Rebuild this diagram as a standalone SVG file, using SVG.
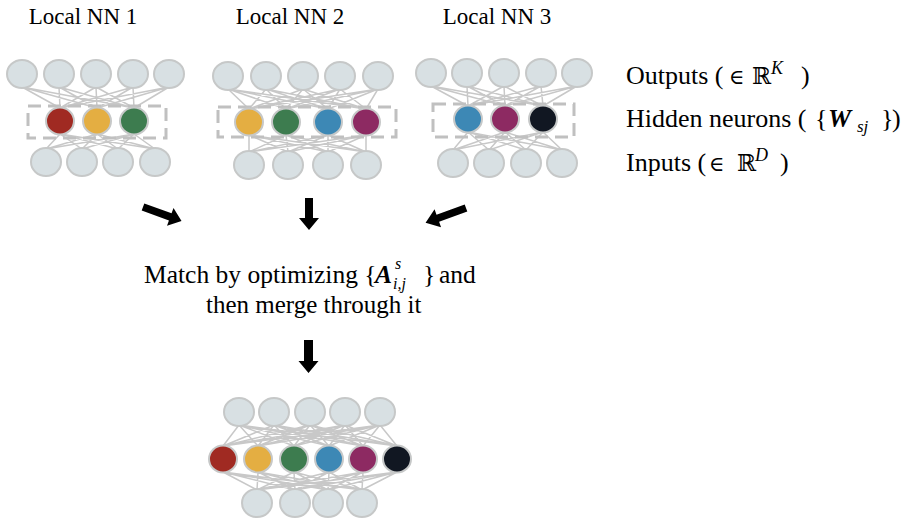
<svg xmlns="http://www.w3.org/2000/svg" width="902" height="521" viewBox="0 0 902 521">
<style>
  .wire{fill:none;stroke:#c8c8c8;stroke-width:1.5}
  .unit{fill:#d8e0e3;stroke:#c6c8c8;stroke-width:2}
  .hid{stroke:#c6c8c8;stroke-width:2}
  .box{fill:none;stroke:#c0c0c0;stroke-width:3;stroke-dasharray:13 7}
  .red{fill:#a02a22}.yel{fill:#e4ae42}.grn{fill:#3d7c4f}.blu{fill:#3d88b5}.mag{fill:#8d2a62}.blk{fill:#111722}
  text{font-family:'Liberation Serif','Times New Roman','DejaVu Serif',serif;fill:#000}
  .m{font-family:'DejaVu Serif','Liberation Serif',serif}
  .arrow{fill:#000}
</style>
<rect x="0" y="0" width="902" height="521" fill="#ffffff"/>

<g id="nn1">
  <path class="wire" d="M22 87L60 108M22 87L97 108M22 87L134 108M59 87L60 108M59 87L97 108M59 87L134 108M96 87L60 108M96 87L97 108M96 87L134 108M133 87L60 108M133 87L97 108M133 87L134 108M169 87L60 108M169 87L97 108M169 87L134 108"/>
  <path class="wire" d="M60 134L46 149M60 134L82 149M60 134L118 149M60 134L155 149M97 134L46 149M97 134L82 149M97 134L118 149M97 134L155 149M134 134L46 149M134 134L82 149M134 134L118 149M134 134L155 149"/>
  <rect class="box" x="28" y="106" width="138" height="32"/>
  <ellipse class="unit" cx="22" cy="74" rx="15" ry="14"/>
  <ellipse class="unit" cx="59" cy="74" rx="15" ry="14"/>
  <ellipse class="unit" cx="96" cy="74" rx="15" ry="14"/>
  <ellipse class="unit" cx="133" cy="74" rx="15" ry="14"/>
  <ellipse class="unit" cx="169" cy="74" rx="15" ry="14"/>
  <ellipse class="hid red" cx="60" cy="121" rx="14" ry="13.5"/>
  <ellipse class="hid yel" cx="97" cy="121" rx="14" ry="13.5"/>
  <ellipse class="hid grn" cx="134" cy="121" rx="14" ry="13.5"/>
  <ellipse class="unit" cx="46" cy="162" rx="15" ry="14"/>
  <ellipse class="unit" cx="82" cy="162" rx="15" ry="14"/>
  <ellipse class="unit" cx="118" cy="162" rx="15" ry="14"/>
  <ellipse class="unit" cx="155" cy="162" rx="15" ry="14"/>
</g>

<g id="nn2">
  <path class="wire" d="M228 89L249 109M228 89L286 109M228 89L328 109M228 89L366 109M266 89L249 109M266 89L286 109M266 89L328 109M266 89L366 109M303 89L249 109M303 89L286 109M303 89L328 109M303 89L366 109M340 89L249 109M340 89L286 109M340 89L328 109M340 89L366 109M378 89L249 109M378 89L286 109M378 89L328 109M378 89L366 109"/>
  <path class="wire" d="M249 135L249 152M249 135L288 152M249 135L328 152M249 135L366 152M286 135L249 152M286 135L288 152M286 135L328 152M286 135L366 152M328 135L249 152M328 135L288 152M328 135L328 152M328 135L366 152M366 135L249 152M366 135L288 152M366 135L328 152M366 135L366 152"/>
  <rect class="box" x="218" y="107" width="178" height="30"/>
  <ellipse class="unit" cx="228" cy="76" rx="15" ry="14"/>
  <ellipse class="unit" cx="266" cy="76" rx="15" ry="14"/>
  <ellipse class="unit" cx="303" cy="76" rx="15" ry="14"/>
  <ellipse class="unit" cx="340" cy="76" rx="15" ry="14"/>
  <ellipse class="unit" cx="378" cy="76" rx="15" ry="14"/>
  <ellipse class="hid yel" cx="249" cy="122" rx="14" ry="13.5"/>
  <ellipse class="hid grn" cx="286" cy="122" rx="14" ry="13.5"/>
  <ellipse class="hid blu" cx="328" cy="122" rx="14" ry="13.5"/>
  <ellipse class="hid mag" cx="366" cy="122" rx="14" ry="13.5"/>
  <ellipse class="unit" cx="249" cy="165" rx="15" ry="14"/>
  <ellipse class="unit" cx="288" cy="165" rx="15" ry="14"/>
  <ellipse class="unit" cx="328" cy="165" rx="15" ry="14"/>
  <ellipse class="unit" cx="366" cy="165" rx="15" ry="14"/>
</g>

<g id="nn3">
  <path class="wire" d="M431 86L468 106M431 86L505 106M431 86L543 106M467 86L468 106M467 86L505 106M467 86L543 106M504 86L468 106M504 86L505 106M504 86L543 106M541 86L468 106M541 86L505 106M541 86L543 106M577 86L468 106M577 86L505 106M577 86L543 106"/>
  <path class="wire" d="M468 132L453 150M468 132L489 150M468 132L526 150M468 132L562 150M505 132L453 150M505 132L489 150M505 132L526 150M505 132L562 150M543 132L453 150M543 132L489 150M543 132L526 150M543 132L562 150"/>
  <rect class="box" x="433" y="104" width="141" height="33"/>
  <ellipse class="unit" cx="431" cy="73" rx="15" ry="14"/>
  <ellipse class="unit" cx="467" cy="73" rx="15" ry="14"/>
  <ellipse class="unit" cx="504" cy="73" rx="15" ry="14"/>
  <ellipse class="unit" cx="541" cy="73" rx="15" ry="14"/>
  <ellipse class="unit" cx="577" cy="73" rx="15" ry="14"/>
  <ellipse class="hid blu" cx="468" cy="119" rx="14" ry="13.5"/>
  <ellipse class="hid mag" cx="505" cy="119" rx="14" ry="13.5"/>
  <ellipse class="hid blk" cx="543" cy="119" rx="14" ry="13.5"/>
  <ellipse class="unit" cx="453" cy="163" rx="15" ry="14"/>
  <ellipse class="unit" cx="489" cy="163" rx="15" ry="14"/>
  <ellipse class="unit" cx="526" cy="163" rx="15" ry="14"/>
  <ellipse class="unit" cx="562" cy="163" rx="15" ry="14"/>
</g>

<g id="merged">
  <path class="wire" d="M239 425L223 446M239 425L258 446M239 425L294 446M239 425L329 446M239 425L363 446M239 425L397 446M274 425L223 446M274 425L258 446M274 425L294 446M274 425L329 446M274 425L363 446M274 425L397 446M310 425L223 446M310 425L258 446M310 425L294 446M310 425L329 446M310 425L363 446M310 425L397 446M345 425L223 446M345 425L258 446M345 425L294 446M345 425L329 446M345 425L363 446M345 425L397 446M380 425L223 446M380 425L258 446M380 425L294 446M380 425L329 446M380 425L363 446M380 425L397 446"/>
  <path class="wire" d="M223 472L257 490M223 472L295 490M223 472L328 490M223 472L362 490M258 472L257 490M258 472L295 490M258 472L328 490M258 472L362 490M294 472L257 490M294 472L295 490M294 472L328 490M294 472L362 490M329 472L257 490M329 472L295 490M329 472L328 490M329 472L362 490M363 472L257 490M363 472L295 490M363 472L328 490M363 472L362 490M397 472L257 490M397 472L295 490M397 472L328 490M397 472L362 490"/>
  <ellipse class="unit" cx="239" cy="412" rx="15" ry="14"/>
  <ellipse class="unit" cx="274" cy="412" rx="15" ry="14"/>
  <ellipse class="unit" cx="310" cy="412" rx="15" ry="14"/>
  <ellipse class="unit" cx="345" cy="412" rx="15" ry="14"/>
  <ellipse class="unit" cx="380" cy="412" rx="15" ry="14"/>
  <ellipse class="hid red" cx="223" cy="459" rx="14" ry="13.5"/>
  <ellipse class="hid yel" cx="258" cy="459" rx="14" ry="13.5"/>
  <ellipse class="hid grn" cx="294" cy="459" rx="14" ry="13.5"/>
  <ellipse class="hid blu" cx="329" cy="459" rx="14" ry="13.5"/>
  <ellipse class="hid mag" cx="363" cy="459" rx="14" ry="13.5"/>
  <ellipse class="hid blk" cx="397" cy="459" rx="14" ry="13.5"/>
  <ellipse class="unit" cx="257" cy="503" rx="15" ry="14"/>
  <ellipse class="unit" cx="295" cy="503" rx="15" ry="14"/>
  <ellipse class="unit" cx="328" cy="503" rx="15" ry="14"/>
  <ellipse class="unit" cx="362" cy="503" rx="15" ry="14"/>
</g>

<g id="titles">
  <text x="83" y="24" font-size="23" text-anchor="middle">Local NN 1</text>
  <text x="290" y="24" font-size="23" text-anchor="middle">Local NN 2</text>
  <text x="497" y="24" font-size="23" text-anchor="middle">Local NN 3</text>
</g>

<g id="legend">
  <text y="84" font-size="26"><tspan x="626">Outputs (</tspan><tspan class="m" x="729" font-size="21">∈</tspan><tspan class="m" x="752" font-size="23">ℝ</tspan><tspan x="771" dy="-10" font-size="18" font-style="italic">K</tspan><tspan x="801" dy="10">)</tspan></text>
  <text y="127" font-size="26"><tspan x="626">Hidden neurons (</tspan><tspan x="815">{</tspan><tspan x="828" font-weight="bold" font-style="italic">W</tspan><tspan x="857" dy="5" font-size="17" font-style="italic">sj</tspan><tspan x="881" dy="-5">}</tspan><tspan x="892">)</tspan></text>
  <text y="171" font-size="26"><tspan x="626">Inputs (</tspan><tspan class="m" x="709" font-size="21">∈</tspan><tspan class="m" x="737" font-size="23">ℝ</tspan><tspan x="755" dy="-10" font-size="18" font-style="italic">D</tspan><tspan x="780" dy="10">)</tspan></text>
</g>

<g id="match-label">
  <text y="283" font-size="25.5"><tspan x="144">Match by optimizing {</tspan><tspan x="375" font-weight="bold" font-style="italic">A</tspan><tspan x="395" dy="-14" font-size="16" font-style="italic">s</tspan><tspan x="393" dy="20" font-size="16" font-style="italic">i,j</tspan><tspan x="423" dy="-6">}</tspan><tspan x="439">and</tspan></text>
  <text x="206" y="313" font-size="25">then merge through it</text>
</g>

<g id="connectors">
  <path class="arrow" transform="translate(143 207) rotate(20)" d="M0 -3.8L29 -3.8L29 -9.5L41 0L29 9.5L29 3.8L0 3.8Z"/>
  <path class="arrow" d="M305 198L313 198L313 218L319 218L309 230L299 218L305 218Z"/>
  <path class="arrow" transform="translate(466 208) rotate(160)" d="M0 -3.8L30 -3.8L30 -9.5L43 0L30 9.5L30 3.8L0 3.8Z"/>
  <path class="arrow" d="M304 340L313 340L313 361L318.5 361L308.5 373L298.5 361L304 361Z"/>
</g>
</svg>
